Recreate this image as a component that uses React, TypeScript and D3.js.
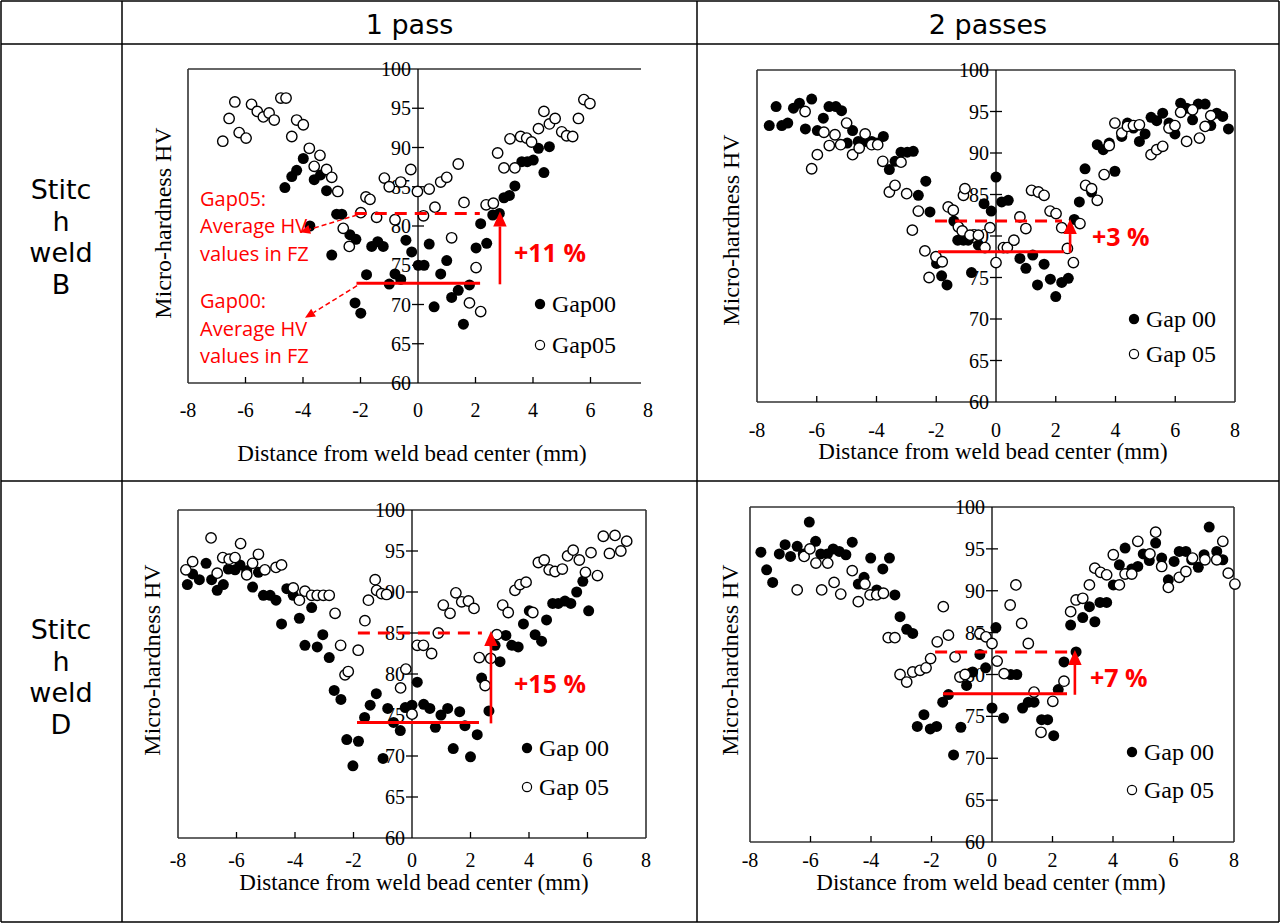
import React from "react";
import * as d3 from "d3";

type Pt = [number, number];

const xTicks = [-8, -6, -4, -2, 0, 2, 4, 6, 8];
const yTicks = [60, 65, 70, 75, 80, 85, 90, 95, 100];
const columnHeaders = ["1 pass", "2 passes"];
const rowLabelsB = ["Stitc", "h", "weld", "B"];
const rowLabelsD = ["Stitc", "h", "weld", "D"];
const xAxisTitle = "Distance from weld bead center (mm)";
const yAxisTitle = "Micro-hardness HV";

// Stitch weld B, 1 pass
const b1Gap00: Pt[] = [
  [-4.63, 84.9], [-4.39, 86.3], [-4.22, 87.1], [-3.99, 88.6], [-3.76, 80.0], [-3.61, 85.9], [-3.39, 86.5], [-3.18, 84.5],
  [-3.0, 76.3], [-2.83, 81.5], [-2.65, 81.5], [-2.37, 78.9], [-2.19, 70.2], [-2.16, 78.3], [-1.99, 68.9], [-1.79, 73.8],
  [-1.61, 77.4], [-1.4, 78.0], [-1.21, 77.4], [-1.0, 72.6], [-0.8, 73.9], [-0.6, 73.2], [-0.42, 78.2], [-0.22, 76.7],
  [0.01, 75.0], [0.21, 75.0], [0.39, 77.7], [0.56, 69.7], [0.79, 73.9], [1.0, 75.6], [1.17, 70.9], [1.4, 71.8],
  [1.58, 67.5], [1.79, 72.5], [2.02, 77.2], [2.18, 80.3], [2.39, 77.8], [2.6, 81.4], [2.83, 81.6], [2.99, 83.6],
  [3.18, 83.9], [3.37, 85.1], [3.61, 88.2], [3.8, 88.2], [4.01, 88.4], [4.19, 89.9], [4.38, 86.8], [4.57, 90.1],
];
const b1Gap05: Pt[] = [
  [-6.79, 90.8], [-6.57, 93.7], [-6.37, 95.8], [-6.22, 91.9], [-5.98, 91.2], [-5.79, 95.5], [-5.59, 94.6], [-5.38, 93.9],
  [-5.18, 94.4], [-5.0, 93.5], [-4.77, 96.3], [-4.59, 96.3], [-4.39, 91.4], [-4.22, 93.5], [-3.99, 92.9], [-3.78, 89.9],
  [-3.61, 87.6], [-3.41, 89.0], [-3.18, 87.2], [-3.0, 86.2], [-2.79, 84.4], [-2.6, 79.7], [-2.39, 77.4], [-1.99, 81.7],
  [-1.81, 83.7], [-1.67, 83.4], [-1.44, 81.1], [-1.17, 86.1], [-1.0, 85.0], [-0.8, 80.8], [-0.6, 85.6], [-0.25, 87.2],
  [-0.02, 84.4], [0.19, 81.3], [0.39, 84.7], [0.59, 82.4], [0.79, 85.6], [1.0, 86.2], [1.17, 78.5], [1.4, 87.9],
  [1.6, 83.0], [1.79, 70.2], [2.02, 74.7], [2.18, 69.1], [2.37, 82.7], [2.62, 82.9], [2.77, 89.3], [2.99, 87.4],
  [3.2, 91.1], [3.37, 87.4], [3.57, 91.4], [3.78, 91.2], [3.95, 90.7], [4.19, 92.4], [4.38, 94.6], [4.57, 93.0],
  [4.77, 93.7], [5.0, 92.0], [5.17, 91.5], [5.38, 91.4], [5.58, 93.7], [5.77, 96.1], [5.98, 95.6],
];

// Stitch weld B, 2 passes
const b2Gap00: Pt[] = [
  [-7.59, 93.3], [-7.36, 95.6], [-7.17, 93.3], [-6.97, 93.6], [-6.78, 95.4], [-6.58, 96.0], [-6.38, 92.9], [-6.17, 96.5],
  [-5.98, 92.7], [-5.78, 94.2], [-5.59, 95.6], [-5.36, 95.6], [-5.17, 95.1], [-4.98, 91.2], [-4.8, 92.7], [-4.61, 91.4],
  [-4.38, 91.4], [-4.16, 91.4], [-3.97, 91.2], [-3.77, 92.0], [-3.57, 88.0], [-3.38, 89.0], [-3.18, 90.1], [-2.97, 90.1],
  [-2.77, 90.2], [-2.6, 84.9], [-2.35, 86.6], [-2.21, 82.9], [-1.99, 76.7], [-1.82, 75.2], [-1.64, 74.1], [-1.41, 81.8],
  [-1.28, 79.5], [-1.09, 79.5], [-0.93, 79.5], [-0.82, 75.6], [-0.59, 78.9], [-0.4, 83.9], [-0.16, 83.0], [0.0, 87.1],
  [0.19, 84.1], [0.41, 84.3], [0.8, 77.3], [1.0, 76.1], [1.23, 77.7], [1.39, 74.1], [1.61, 76.6], [1.82, 74.8],
  [2.0, 72.7], [2.2, 74.4], [2.42, 74.9], [2.62, 82.0], [2.79, 84.1], [2.98, 88.1], [3.2, 85.3], [3.39, 91.0],
  [3.59, 90.4], [3.79, 91.2], [3.98, 87.8], [4.21, 92.0], [4.4, 93.6], [4.6, 93.0], [4.8, 91.4], [4.99, 92.3],
  [5.19, 94.3], [5.38, 93.9], [5.58, 94.8], [5.79, 93.6], [5.99, 92.3], [6.18, 96.0], [6.38, 95.4], [6.58, 94.0],
  [6.77, 95.9], [7.0, 95.9], [7.19, 93.3], [7.39, 94.8], [7.59, 94.4], [7.78, 92.9],
];
const b2Gap05: Pt[] = [
  [-6.39, 95.0], [-6.17, 88.1], [-5.98, 89.8], [-5.76, 92.5], [-5.58, 90.9], [-5.39, 92.2], [-5.2, 91.0], [-5.0, 93.6],
  [-4.8, 89.8], [-4.58, 90.6], [-4.38, 92.3], [-4.16, 91.0], [-3.96, 91.0], [-3.79, 89.0], [-3.57, 85.3], [-3.38, 86.1],
  [-3.18, 88.9], [-2.99, 85.1], [-2.8, 80.7], [-2.6, 83.0], [-2.38, 78.2], [-2.24, 75.0], [-2.01, 77.5], [-1.8, 76.9],
  [-1.6, 83.5], [-1.43, 83.1], [-1.26, 81.1], [-1.13, 80.6], [-1.09, 84.9], [-1.04, 85.7], [-0.87, 80.1], [-0.59, 80.1],
  [-0.37, 78.6], [-0.2, 81.0], [0.0, 76.8], [0.25, 78.6], [0.38, 78.6], [0.6, 79.5], [0.8, 82.3], [1.0, 80.9],
  [1.19, 85.5], [1.42, 85.3], [1.61, 84.9], [1.81, 83.0], [2.01, 82.7], [2.2, 81.0], [2.39, 78.5], [2.59, 76.8],
  [2.81, 81.5], [3.0, 86.1], [3.2, 85.7], [3.39, 84.3], [3.62, 87.4], [3.79, 90.9], [3.98, 93.6], [4.21, 92.4],
  [4.4, 93.2], [4.6, 93.3], [4.8, 93.4], [5.19, 89.8], [5.38, 90.4], [5.58, 90.8], [5.79, 93.0], [5.99, 93.3],
  [6.18, 94.9], [6.38, 91.4], [6.58, 95.2], [6.81, 91.8], [7.0, 93.2], [7.19, 94.5],
];

// Stitch weld D, 1 pass
const d1Gap00: Pt[] = [
  [-7.68, 90.9], [-7.5, 92.2], [-7.27, 91.5], [-7.04, 93.5], [-6.85, 91.5], [-6.66, 90.2], [-6.45, 90.9], [-6.28, 92.8],
  [-6.05, 92.7], [-5.88, 93.3], [-5.65, 92.6], [-5.45, 90.6], [-5.25, 92.4], [-5.08, 89.6], [-4.85, 89.6], [-4.65, 89.0],
  [-4.46, 86.1], [-4.28, 90.4], [-4.06, 89.6], [-3.85, 86.8], [-3.66, 83.5], [-3.43, 88.1], [-3.24, 83.3], [-3.05, 84.8],
  [-2.83, 82.0], [-2.66, 78.0], [-2.43, 76.9], [-2.23, 72.0], [-2.02, 68.8], [-1.83, 71.8], [-1.62, 74.7], [-1.43, 76.2],
  [-1.22, 77.6], [-0.99, 69.7], [-0.83, 75.8], [-0.63, 74.1], [-0.4, 73.1], [-0.23, 75.9], [0.0, 76.2], [0.18, 79.0],
  [0.4, 76.3], [0.61, 75.8], [0.8, 73.5], [0.99, 75.0], [1.22, 75.8], [1.41, 70.9], [1.63, 75.4], [1.81, 73.7],
  [2.0, 69.9], [2.23, 72.6], [2.38, 79.5], [2.63, 75.5], [2.84, 83.5], [3.01, 81.5], [3.21, 84.7], [3.41, 83.5],
  [3.63, 83.3], [3.81, 86.1], [4.01, 87.7], [4.21, 84.8], [4.43, 84.0], [4.6, 86.6], [4.81, 88.6], [5.0, 88.6],
  [5.23, 88.9], [5.43, 88.6], [5.63, 90.0], [5.84, 91.3], [6.04, 87.7],
];
const d1Gap05: Pt[] = [
  [-7.73, 92.7], [-7.5, 93.7], [-6.87, 96.6], [-6.66, 92.3], [-6.47, 94.2], [-6.25, 94.0], [-6.05, 94.2], [-5.86, 95.9],
  [-5.65, 92.1], [-5.45, 93.5], [-5.25, 94.6], [-5.03, 92.7], [-4.65, 93.0], [-4.46, 93.3], [-4.06, 90.5], [-3.85, 89.0],
  [-3.66, 90.1], [-3.43, 89.6], [-3.24, 89.6], [-3.03, 89.6], [-2.83, 89.6], [-2.63, 87.4], [-2.44, 83.5], [-2.29, 79.9],
  [-2.18, 80.3], [-1.84, 82.9], [-1.61, 86.5], [-1.49, 89.0], [-1.26, 91.5], [-1.21, 90.2], [-1.04, 89.8], [-0.87, 89.7],
  [-0.39, 78.3], [-0.21, 80.6], [0.0, 75.1], [0.18, 83.5], [0.39, 83.5], [0.67, 82.5], [0.9, 85.0], [1.07, 88.4],
  [1.3, 87.4], [1.5, 89.9], [1.7, 88.8], [1.93, 88.9], [2.12, 88.0], [2.3, 82.0], [2.5, 78.6], [2.69, 81.9],
  [2.9, 84.8], [3.1, 88.4], [3.29, 87.5], [3.52, 90.2], [3.69, 90.9], [3.9, 91.2], [4.13, 87.5], [4.32, 93.6],
  [4.52, 93.9], [4.69, 92.7], [4.89, 92.5], [5.14, 92.8], [5.32, 94.4], [5.51, 95.1], [5.72, 93.9], [5.93, 92.4],
  [6.12, 94.8], [6.34, 92.0], [6.54, 96.8], [6.75, 94.7], [6.94, 96.9], [7.14, 95.0], [7.34, 96.2],
];

// Stitch weld D, 2 passes
const d2Gap00: Pt[] = [
  [-7.64, 94.6], [-7.45, 92.5], [-7.25, 91.0], [-7.03, 94.4], [-6.84, 95.5], [-6.66, 94.1], [-6.44, 95.3], [-6.24, 94.4],
  [-6.04, 98.2], [-5.83, 95.9], [-5.66, 94.4], [-5.44, 94.4], [-5.25, 95.0], [-5.05, 94.7], [-4.83, 94.3], [-4.62, 95.8],
  [-4.42, 90.8], [-4.23, 91.6], [-4.01, 93.9], [-3.81, 90.1], [-3.61, 92.6], [-3.39, 93.9], [-3.21, 89.5], [-3.04, 86.9],
  [-2.82, 85.4], [-2.62, 84.9], [-2.47, 73.8], [-2.25, 75.2], [-2.04, 73.5], [-1.83, 73.8], [-1.63, 76.7], [-1.44, 77.6],
  [-1.27, 70.4], [-1.03, 73.7], [-0.84, 78.7], [-0.64, 80.3], [-0.4, 82.4], [-0.21, 80.8], [0.0, 76.0], [0.13, 85.6],
  [0.38, 74.8], [0.62, 80.0], [0.82, 80.0], [1.01, 76.0], [1.2, 76.7], [1.39, 76.7], [1.64, 74.6], [1.84, 74.6],
  [2.04, 72.7], [2.19, 78.2], [2.38, 81.5], [2.6, 85.9], [2.78, 82.7], [3.0, 86.8], [3.22, 88.1], [3.4, 86.3],
  [3.57, 88.6], [3.79, 88.6], [4.01, 90.7], [4.21, 93.1], [4.4, 95.1], [4.62, 92.6], [4.82, 92.9], [5.0, 94.4],
  [5.2, 93.6], [5.41, 95.7], [5.61, 93.9], [5.83, 91.3], [6.02, 93.5], [6.19, 94.7], [6.41, 94.7], [6.6, 93.7],
  [6.82, 92.8], [7.01, 94.3], [7.18, 97.6], [7.43, 94.7], [7.63, 93.7],
];
const d2Gap05: Pt[] = [
  [-6.44, 90.1], [-6.21, 94.1], [-6.02, 95.0], [-5.82, 93.3], [-5.63, 90.1], [-5.43, 93.3], [-5.22, 91.0], [-5.0, 89.6],
  [-4.62, 92.4], [-4.42, 88.7], [-4.2, 90.8], [-4.03, 89.5], [-3.81, 89.5], [-3.59, 89.7], [-3.43, 84.4], [-3.21, 84.4],
  [-3.04, 80.0], [-2.82, 79.1], [-2.62, 80.3], [-2.38, 80.5], [-2.18, 80.8], [-2.03, 81.9], [-1.81, 83.9], [-1.61, 88.1],
  [-1.44, 84.7], [-1.22, 82.1], [-1.06, 79.7], [-0.89, 80.0], [-0.4, 84.9], [-0.2, 84.5], [0.0, 83.7], [0.17, 81.6],
  [0.4, 80.1], [0.6, 88.3], [0.79, 90.7], [0.98, 86.1], [1.2, 83.7], [1.39, 77.9], [1.62, 73.1], [2.01, 76.8],
  [2.38, 79.2], [2.6, 87.5], [2.78, 88.9], [3.0, 89.1], [3.22, 90.7], [3.4, 92.7], [3.59, 92.2], [3.79, 91.9],
  [4.01, 94.3], [4.21, 90.7], [4.4, 92.0], [4.62, 92.0], [4.82, 95.9], [5.22, 94.4], [5.41, 97.0], [5.61, 92.9],
  [5.83, 90.4], [6.19, 91.6], [6.41, 92.3], [6.63, 93.9], [7.04, 93.7], [7.43, 93.7], [7.63, 95.9], [7.81, 92.1],
  [8.03, 90.8],
];

const legendB1 = ["Gap00", "Gap05"];
const legendOther = ["Gap 00", "Gap 05"];
const pctLabels = ["+11 %", "+3 %", "+15 %", "+7 %"];
const noteGap05 = ["Gap05:", "Average HV", "values in FZ"];
const noteGap00 = ["Gap00:", "Average HV", "values in FZ"];

const RED = "#ff0000";
const SERIF = "'Liberation Serif', 'Times New Roman', serif";
const SANS = "'DejaVu Sans', Verdana, sans-serif";
const RSANS = "'Open Sans', 'Liberation Sans', sans-serif";

interface Ann {
  dashY: number; dashX1: number; dashX2: number;
  solidY: number; solidX1: number; solidX2: number;
  arrowX: number; pct: string; pctX: number; pctY: number;
}
interface PanelCfg {
  id: string;
  xl: number; xr: number; yt: number; yb: number;
  boxRight?: number; noRightEdge?: boolean;
  gap00: Pt[]; gap05: Pt[]; legend: string[];
  legX: number; legY: [number, number];
  yLab: [number, number]; xLab: [number, number]; tickLabY: number;
  ann: Ann;
  notes?: boolean;
}

const panels: PanelCfg[] = [
  {
    id: "b1", xl: 188, xr: 648, yt: 69, yb: 383, boxRight: 641, noRightEdge: true,
    gap00: b1Gap00, gap05: b1Gap05, legend: legendB1, legX: 540, legY: [304, 345],
    yLab: [163, 223], xLab: [412, 453], tickLabY: 410,
    ann: { dashY: 81.6, dashX1: -2.2, dashX2: 2.15, solidY: 72.7, solidX1: -2.14, solidX2: 2.16, arrowX: 2.85, pct: pctLabels[0], pctX: 3.34, pctY: 76.7 },
    notes: true,
  },
  {
    id: "b2", xl: 757, xr: 1235, yt: 70, yb: 402,
    gap00: b2Gap00, gap05: b2Gap05, legend: legendOther, legX: 1134, legY: [319, 354],
    yLab: [731, 230], xLab: [993, 451], tickLabY: 430,
    ann: { dashY: 81.8, dashX1: -2.04, dashX2: 2.21, solidY: 78.1, solidX1: -1.94, solidX2: 2.28, arrowX: 2.48, pct: pctLabels[1], pctX: 3.21, pctY: 80.0 },
  },
  {
    id: "d1", xl: 178, xr: 646, yt: 510, yb: 838,
    gap00: d1Gap00, gap05: d1Gap05, legend: legendOther, legX: 527, legY: [748, 787],
    yLab: [152, 660], xLab: [414, 882], tickLabY: 860,
    ann: { dashY: 85.0, dashX1: -1.85, dashX2: 2.39, solidY: 74.1, solidX1: -1.88, solidX2: 2.29, arrowX: 2.7, pct: pctLabels[2], pctX: 3.49, pctY: 78.9 },
  },
  {
    id: "d2", xl: 750, xr: 1234, yt: 507, yb: 842,
    gap00: d2Gap00, gap05: d2Gap05, legend: legendOther, legX: 1132, legY: [752, 790],
    yLab: [730, 660], xLab: [991, 882], tickLabY: 860,
    ann: { dashY: 82.7, dashX1: -1.88, dashX2: 2.51, solidY: 77.7, solidX1: -1.62, solidX2: 2.48, arrowX: 2.74, pct: pctLabels[3], pctX: 3.24, pctY: 79.7 },
  },
];

function Arrow({ x1, y1, x2, y2, head, width, dash }: { x1: number; y1: number; x2: number; y2: number; head: number; width: number; dash?: string }) {
  const ang = Math.atan2(y2 - y1, x2 - x1);
  const bx = x2 - head * Math.cos(ang);
  const by = y2 - head * Math.sin(ang);
  const hw = head * 0.45;
  const px = -Math.sin(ang) * hw;
  const py = Math.cos(ang) * hw;
  return (
    <g>
      <line x1={x1} y1={y1} x2={bx} y2={by} stroke={RED} strokeWidth={width} strokeDasharray={dash} />
      <path d={`M${x2},${y2}L${bx + px},${by + py}L${bx - px},${by - py}Z`} fill={RED} />
    </g>
  );
}

function Panel({ c }: { c: PanelCfg }) {
  const x = d3.scaleLinear().domain([-8, 8]).range([c.xl, c.xr]);
  const y = d3.scaleLinear().domain([60, 100]).range([c.yb, c.yt]);
  const right = c.boxRight ?? c.xr;
  const x0 = x(0);
  const a = c.ann;
  const boxStroke = "#333";
  return (
    <g>
      <line x1={c.xl} y1={c.yt} x2={right} y2={c.yt} stroke={boxStroke} strokeWidth={1.6} />
      <line x1={c.xl} y1={c.yb} x2={right} y2={c.yb} stroke={boxStroke} strokeWidth={1.6} />
      <line x1={c.xl} y1={c.yt} x2={c.xl} y2={c.yb} stroke={boxStroke} strokeWidth={1.6} />
      {!c.noRightEdge && <line x1={right} y1={c.yt} x2={right} y2={c.yb} stroke={boxStroke} strokeWidth={1.6} />}
      <line x1={x0} y1={c.yt} x2={x0} y2={c.yb} stroke="#000" strokeWidth={1.3} />
      {yTicks.slice(1, -1).map((v) => (
        <line key={"yt" + v} x1={x0 - 6} x2={x0 + 6} y1={y(v)} y2={y(v)} stroke="#000" strokeWidth={1.3} />
      ))}
      {xTicks.slice(1, -1).filter((v) => v !== 0).map((v) => (
        <line key={"xt" + v} x1={x(v)} x2={x(v)} y1={c.yb} y2={c.yb - 6} stroke="#000" strokeWidth={1.3} />
      ))}
      {yTicks.map((v) => (
        <text key={"yl" + v} x={x0 - 7} y={y(v)} textAnchor="end" dominantBaseline="central" fontFamily={SERIF} fontSize={20} fill="#000">{v}</text>
      ))}
      {xTicks.map((v) => (
        <text key={"xl" + v} x={x(v)} y={c.tickLabY} textAnchor="middle" dominantBaseline="central" fontFamily={SERIF} fontSize={20} fill="#000">{v}</text>
      ))}
      <text x={c.xLab[0]} y={c.xLab[1]} textAnchor="middle" dominantBaseline="central" fontFamily={SERIF} fontSize={23} fill="#000">{xAxisTitle}</text>
      <text transform={`translate(${c.yLab[0]},${c.yLab[1]}) rotate(-90)`} textAnchor="middle" dominantBaseline="central" fontFamily={SERIF} fontSize={24} fill="#000">{yAxisTitle}</text>
      {c.gap00.map((p, i) => (
        <circle key={"f" + i} cx={x(p[0])} cy={y(p[1])} r={5.5} fill="#000" />
      ))}
      {c.gap05.map((p, i) => (
        <circle key={"o" + i} cx={x(p[0])} cy={y(p[1])} r={5.2} fill="#fff" stroke="#000" strokeWidth={1.4} />
      ))}
      <circle cx={c.legX} cy={c.legY[0]} r={5.2} fill="#000" />
      <text x={c.legX + 12} y={c.legY[0]} dominantBaseline="central" fontFamily={SERIF} fontSize={24} fill="#000">{c.legend[0]}</text>
      <circle cx={c.legX} cy={c.legY[1]} r={4.6} fill="#fff" stroke="#000" strokeWidth={1.2} />
      <text x={c.legX + 12} y={c.legY[1]} dominantBaseline="central" fontFamily={SERIF} fontSize={24} fill="#000">{c.legend[1]}</text>
      <line x1={x(a.dashX1)} x2={x(a.dashX2)} y1={y(a.dashY)} y2={y(a.dashY)} stroke={RED} strokeWidth={3} strokeDasharray="12,8" />
      <line x1={x(a.solidX1)} x2={x(a.solidX2)} y1={y(a.solidY)} y2={y(a.solidY)} stroke={RED} strokeWidth={3} />
      <Arrow x1={x(a.arrowX)} y1={y(a.solidY) + 1} x2={x(a.arrowX)} y2={y(a.dashY) - 2} head={15} width={2.6} />
      <text x={x(a.pctX)} y={y(a.pctY)} dominantBaseline="central" fontFamily={RSANS} fontWeight={700} fontSize={25} fill={RED}>{a.pct}</text>
      {c.notes && (
        <g>
          {noteGap05.map((t, i) => (
            <text key={"n5" + i} x={x(-7.58)} y={y([82.5, 79.1, 75.5][i])} fontFamily={RSANS} fontSize={20} fill={RED}>{t}</text>
          ))}
          {noteGap00.map((t, i) => (
            <text key={"n0" + i} x={x(-7.58)} y={y([69.6, 66.0, 62.5][i])} fontFamily={RSANS} fontSize={20} fill={RED}>{t}</text>
          ))}
          <Arrow x1={x(-2.12)} y1={y(81.4)} x2={x(-4.1)} y2={y(79.2)} head={10} width={1.5} dash="5,3" />
          <Arrow x1={x(-2.12)} y1={y(72.4)} x2={x(-3.93)} y2={y(68.3)} head={10} width={1.5} dash="5,3" />
        </g>
      )}
    </g>
  );
}

export default function App() {
  const W = 1280, H = 923;
  const colX = [1, 122, 697, 1279];
  const rowY = [1, 44, 481, 922];
  return (
    <div style={{ position: "absolute", left: 0, top: 0 }}>
      <svg width={W} height={H} viewBox={`0 0 ${W} ${H}`} style={{ display: "block", background: "#fff" }}>
        <rect x={0} y={0} width={W} height={H} fill="#fff" />
        {colX.map((cx, i) => (
          <line key={"cx" + i} x1={cx} x2={cx} y1={rowY[0]} y2={rowY[3]} stroke="#000" strokeWidth={1.5} />
        ))}
        {rowY.map((ry, i) => (
          <line key={"ry" + i} x1={colX[0]} x2={colX[3]} y1={ry} y2={ry} stroke="#000" strokeWidth={1.5} />
        ))}
        {columnHeaders.map((h, i) => (
          <text key={h} x={(colX[i + 1] + colX[i + 2]) / 2} y={24} textAnchor="middle" dominantBaseline="central" fontFamily={SANS} fontSize={27} fill="#000">{h}</text>
        ))}
        {[rowLabelsB, rowLabelsD].map((lines, r) =>
          lines.map((t, i) => (
            <text key={r + "-" + i} x={61} y={(r === 0 ? 199 : 639) + i * 31.5} textAnchor="middle" fontFamily={SANS} fontSize={27} fill="#000">{t}</text>
          ))
        )}
        {panels.map((p) => (
          <Panel key={p.id} c={p} />
        ))}
      </svg>
    </div>
  );
}
